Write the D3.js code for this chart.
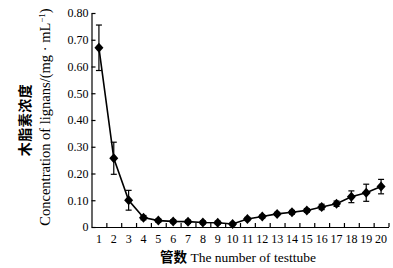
<!DOCTYPE html>
<html>
<head>
<meta charset="utf-8">
<script src="https://cdn.jsdelivr.net/npm/d3@7"></script>
<style>
  body { margin: 0; background: #fff; }
  text { font-family: "Liberation Serif", "DejaVu Serif", serif; fill: #000; }
  .cjk { font-family: "Noto Sans CJK SC", sans-serif; font-weight: 700; }
</style>
</head>
<body>
<div id="chart"></div>
<script>
// Dados
const tubes = d3.range(1, 21);
const values = [0.67, 0.257, 0.10, 0.035, 0.024, 0.021, 0.02, 0.017, 0.016, 0.011,
                 0.03, 0.039, 0.049, 0.055, 0.062, 0.075, 0.087, 0.113, 0.128, 0.151];
const errors = [0.085, 0.06, 0.037, 0.008, 0.006, 0.006, 0.006, 0.006, 0.006, 0.006,
                0.006, 0.006, 0.006, 0.007, 0.007, 0.01, 0.01, 0.022, 0.032, 0.027];
const yTicks = [0, 0.1, 0.2, 0.3, 0.4, 0.5, 0.6, 0.7, 0.8];

const data = tubes.map((t, i) => ({ tube: t, value: values[i], err: errors[i] }));

const width = 393;
const height = 268;
const margin = { top: 13, right: 4.5, bottom: 41, left: 91.5 };
const graphWidth = width - margin.left - margin.right;
const graphHeight = height - margin.top - margin.bottom;

// Escalas
const x = d3.scaleLinear().domain([0.5, 20.5]).range([0, graphWidth]);
const y = d3.scaleLinear().domain([0, 0.8]).range([graphHeight, 0]);

const svg = d3
  .select("#chart")
  .append("svg")
  .attr("width", width)
  .attr("height", height)
  .append("g")
  .attr("transform", `translate(${margin.left}, ${margin.top})`);

// Eixo X: marcas entre os tubos, rótulos nos inteiros
const xAxis = svg.append("g").attr("transform", `translate(0,${graphHeight})`);
xAxis
  .call(d3.axisBottom(x).tickValues(tubes.map((t) => t + 0.5)).tickSize(-4).tickSizeOuter(0).tickFormat(""))
  .call((g) => g.selectAll("line, path").attr("stroke", "#000").attr("stroke-width", 1.2));
xAxis
  .selectAll(".lbl")
  .data(tubes)
  .enter()
  .append("text")
  .attr("class", "lbl")
  .attr("x", (d) => x(d))
  .attr("y", 16)
  .attr("text-anchor", "middle")
  .style("font-size", "12px")
  .text((d) => d);

// Eixo Y
svg
  .append("g")
  .call(d3.axisLeft(y).tickValues(yTicks).tickSize(-4).tickSizeOuter(0).tickPadding(3)
    .tickFormat((d) => (d === 0 ? "0" : d3.format(".2f")(d))))
  .call((g) => g.selectAll("line, path").attr("stroke", "#000").attr("stroke-width", 1.2))
  .call((g) => g.selectAll("text").style("font-size", "12px").style("font-family", "Liberation Serif"));

// Barras de erro
const eb = svg.selectAll(".err").data(data).enter().append("g").attr("stroke", "#000").attr("stroke-width", 1.2);
eb.append("line")
  .attr("x1", (d) => x(d.tube)).attr("x2", (d) => x(d.tube))
  .attr("y1", (d) => y(d.value - d.err)).attr("y2", (d) => y(d.value + d.err));
eb.append("line")
  .attr("x1", (d) => x(d.tube) - 3).attr("x2", (d) => x(d.tube) + 3)
  .attr("y1", (d) => y(d.value + d.err)).attr("y2", (d) => y(d.value + d.err));
eb.append("line")
  .attr("x1", (d) => x(d.tube) - 3).attr("x2", (d) => x(d.tube) + 3)
  .attr("y1", (d) => y(d.value - d.err)).attr("y2", (d) => y(d.value - d.err));

// Linha
const line = d3.line().x((d) => x(d.tube)).y((d) => y(d.value));
svg.append("path")
  .datum(data)
  .attr("d", line)
  .style("fill", "none")
  .style("stroke", "#000")
  .style("stroke-width", 1.6);

// Marcadores (losangos)
svg.selectAll(".pt")
  .data(data)
  .enter()
  .append("path")
  .attr("class", "pt")
  .attr("transform", (d) => `translate(${x(d.tube)},${y(d.value)})`)
  .attr("d", "M0,-5L4.5,0L0,5L-4.5,0Z")
  .style("fill", "#000");

// Títulos
svg.append("text")
  .attr("x", graphWidth / 2 - 2)
  .attr("y", graphHeight + 35)
  .attr("text-anchor", "middle")
  .style("font-size", "13.5px")
  .html('<tspan class="cjk" style="font-weight:600">管数</tspan> The number of testtube');

svg.append("text")
  .attr("class", "cjk")
  .attr("transform", `translate(${30 - margin.left},${120 - margin.top}) rotate(-90)`)
  .attr("text-anchor", "middle")
  .style("font-size", "14px")
  .style("font-weight", "600")
  .style("letter-spacing", "0.5px")
  .text("木脂素浓度");

svg.append("text")
  .attr("transform", `translate(${50 - margin.left},${117 - margin.top}) rotate(-90)`)
  .attr("text-anchor", "middle")
  .style("font-size", "14.5px")
  .html('Concentration of lignans/(mg · mL<tspan dy="-5" style="font-size:9px">−1</tspan><tspan dy="5">)</tspan>');
</script>
</body>
</html>
